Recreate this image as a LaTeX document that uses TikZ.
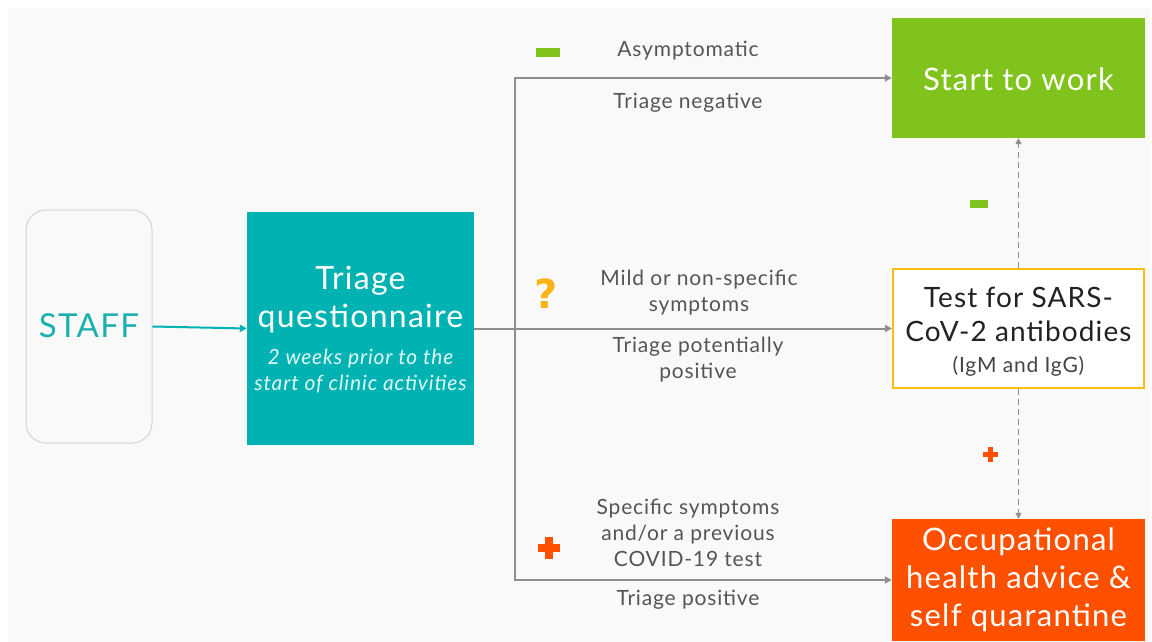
\documentclass[tikz,border=0pt]{standalone}
\usepackage{fontspec}
\setmainfont{Lato}[LetterSpace=4]
\newfontfamily\qfont{DejaVu Sans}
\usetikzlibrary{arrows.meta}
\definecolor{bggray}{HTML}{F9F9F9}
\definecolor{teal}{HTML}{00B2B1}
\definecolor{stafftxt}{HTML}{1BB0B0}
\definecolor{okgreen}{HTML}{80C31C}
\definecolor{alertorange}{HTML}{FF5000}
\definecolor{testyellow}{HTML}{FDBD10}
\definecolor{qyellow}{HTML}{FBB418}
\definecolor{linegray}{HTML}{8E8E8E}
\definecolor{labelgray}{HTML}{555555}
\definecolor{darktxt}{HTML}{222222}
\definecolor{staffborder}{HTML}{D4D4D4}
\tikzset{
  lbl/.style={font=\fontsize{21}{26}\selectfont, text=labelgray, align=center, inner sep=0pt},
  bigbox/.style={rectangle, minimum width=253pt, minimum height=120pt, inner sep=0pt, align=center},
  conn/.style={draw=linegray, line width=2pt, -{Triangle[length=7pt,width=7pt]}},
  dconn/.style={draw=linegray, line width=1.4pt, dash pattern=on 6pt off 4pt, -{Triangle[length=6pt,width=6pt]}},
  bigtxt/.style={font=\fontsize{31}{38}\selectfont, text=white, align=center, inner sep=0pt},
}
\begin{document}
\begin{tikzpicture}[x=1pt,y=-1pt]
\useasboundingbox (0,0) rectangle (1152,642);
\fill[white] (0,0) rectangle (1152,642);
\fill[bggray] (8,8) rectangle (1150,642);

% STAFF
\node[rectangle, rounded corners=20pt, draw=staffborder, line width=1pt, fill=bggray,
      minimum width=126pt, minimum height=233pt, inner sep=0pt] (staff) at (89,326.5) {};
\node[font=\fontsize{33}{38}\selectfont, text=stafftxt, inner sep=0pt] (stafftext) at (89,326) {STAFF};

% Triage questionnaire
\node[rectangle, fill=teal, minimum width=227pt, minimum height=233pt, inner sep=0pt] (triage) at (360.5,328.5) {};
\node[bigtxt, font=\fontsize{32}{38}\selectfont] (triagetitle) at (360.5,300) {Triage\\questionnaire};
\node[font=\itshape\fontsize{21}{26}\selectfont, text=white!88!teal, align=center, inner sep=0pt] (triagesub) at (360.5,371) {2 weeks prior to the\\start of clinic activities};

% Right boxes
\node[bigbox, fill=okgreen] (start) at (1018.5,78) {};
\node[bigtxt] (starttext) at (1018.5,79) {Start to work};

\node[bigbox, fill=white, draw=testyellow, line width=2pt, minimum width=251pt, minimum height=119pt] (test) at (1018.5,328.5) {};
\node[font=\fontsize{28}{34}\selectfont, text=darktxt, align=center, inner sep=0pt] (testtitle) at (1018.5,314) {Test for SARS-\\CoV-2 antibodies};
\node[font=\fontsize{21}{26}\selectfont, text=labelgray!80!black, inner sep=0pt] (testsub) at (1018.5,366) {(IgM and IgG)};

\node[bigbox, fill=alertorange, minimum height=122pt] (occ) at (1018.5,580) {};
\node[bigtxt] (occtext) at (1018.5,580) {Occupational\\health advice \&\\self quarantine};

% Connectors
\coordinate (j) at (515,328.5);
\draw[teal, line width=2pt, -{Triangle[length=7pt,width=7pt]}] (staff.east) -- (triage.west);
\draw[conn] (triage.east) -- (test.west);
\draw[conn] (j) |- (start.west);
\draw[conn] (j) |- (occ.west);
\draw[dconn] (test.north) -- (start.south);
\draw[dconn] (test.south) -- (occ.north);

% Labels
\node[lbl] (asym) at (688,51) {Asymptomatic};
\node[lbl] (tneg) at (688,103) {Triage negative};
\node[lbl] (mild) at (699,293) {Mild or non-specific\\symptoms};
\node[lbl] (tpot) at (698,360) {Triage potentially\\positive};
\node[lbl] (spec) at (688,533) {Specific symptoms\\and/or a previous\\COVID-19 test};
\node[lbl] (tpos) at (688,600) {Triage positive};

% Icons
\node[rectangle, fill=okgreen, minimum width=24pt, minimum height=9pt, inner sep=0pt] (minus1) at (548,52.5) {};
\node[rectangle, fill=okgreen, minimum width=18pt, minimum height=8pt, inner sep=0pt] (minus2) at (979,204) {};
\node[font=\qfont\bfseries\fontsize{40}{40}\selectfont, text=qyellow, inner sep=0pt, anchor=base] (qmark) at (546.5,308) {?};
\fill[alertorange] (544.5,537) rectangle (552.5,559);
\fill[alertorange] (537.5,544) rectangle (559.5,552);
\fill[alertorange] (988,447) rectangle (993,462);
\fill[alertorange] (983,452) rectangle (998,457);
\end{tikzpicture}
\end{document}
